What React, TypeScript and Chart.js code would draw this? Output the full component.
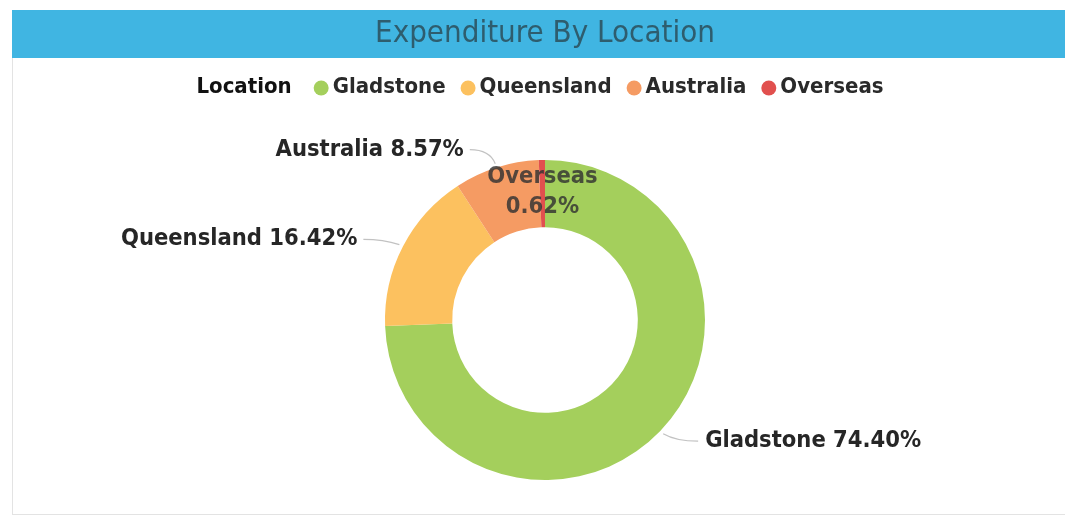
import React, { useEffect, useRef } from "react";
import { Chart, registerables } from "chart.js";

Chart.register(...registerables);

const chartTitle = "Expenditure By Location";
const legendTitle = "Location";
const categories = ["Gladstone", "Queensland", "Australia", "Overseas"];
const shares = [74.4, 16.42, 8.57, 0.62];
const sliceColors = ["#A4CF5C", "#FCC15F", "#F59B63", "#E1504E"];
const insideCategories = ["Overseas"];

const FONT = '"DejaVu Sans Condensed", "DejaVu Sans", sans-serif';

export default function App() {
  const ref = useRef<HTMLCanvasElement>(null);

  useEffect(() => {
    const canvas = ref.current;
    if (!canvas) return;

    const deco = {
      id: "pbiDeco",
      beforeDraw(chart: any) {
        const ctx = chart.ctx as CanvasRenderingContext2D;
        const W = chart.width;
        const H = chart.height;
        ctx.save();
        ctx.fillStyle = "#ffffff";
        ctx.fillRect(0, 0, W, H);
        // card border
        ctx.strokeStyle = "#e3e3e3";
        ctx.lineWidth = 1;
        ctx.strokeRect(12.5, 10.5, W - 12, H - 18);
        // title bar
        ctx.fillStyle = "#40B5E2";
        ctx.fillRect(12, 10, W - 12, 48);
        ctx.font = `31px ${FONT}`;
        ctx.fillStyle = "#2E5D6E";
        ctx.textAlign = "center";
        ctx.textBaseline = "middle";
        ctx.fillText(chartTitle, 545, 34);

        // legend
        const ly = 87;
        const bold = `bold 22px ${FONT}`;
        ctx.font = bold;
        const titleW = ctx.measureText(legendTitle).width;
        const widths = categories.map((c) => ctx.measureText(c).width);
        const gapTitle = 22;
        const gapItem = 15;
        const total =
          titleW + gapTitle + widths.reduce((a, w) => a + 19 + w, 0) + gapItem * (categories.length - 1);
        let x = 540 - total / 2;
        ctx.textAlign = "left";
        ctx.fillStyle = "#111111";
        ctx.fillText(legendTitle, x, ly);
        x += titleW + gapTitle;
        categories.forEach((c, i) => {
          ctx.beginPath();
          ctx.fillStyle = sliceColors[i];
          ctx.arc(x + 7.5, ly + 1, 7.5, 0, Math.PI * 2);
          ctx.fill();
          ctx.fillStyle = "#2a2a2a";
          ctx.fillText(c, x + 19, ly);
          x += 19 + widths[i] + gapItem;
        });
        ctx.restore();
      },
      afterDatasetsDraw(chart: any) {
        const ctx = chart.ctx as CanvasRenderingContext2D;
        const meta = chart.getDatasetMeta(0);
        ctx.save();
        meta.data.forEach((arc: any, i: number) => {
          const props = arc.getProps(["x", "y", "startAngle", "endAngle", "outerRadius", "innerRadius"], true);
          const mid = (props.startAngle + props.endAngle) / 2;
          const cx = props.x;
          const cy = props.y;
          const R = props.outerRadius;
          const cos = Math.cos(mid);
          const sin = Math.sin(mid);
          const label = categories[i];
          const pct = shares[i].toFixed(2) + "%";
          if (insideCategories.includes(label)) {
            const r = (props.outerRadius + props.innerRadius) / 2 + 2;
            const tx = cx + cos * r;
            const ty = cy + sin * r;
            ctx.font = `bold 23.5px ${FONT}`;
            ctx.fillStyle = "rgba(50,50,50,0.82)";
            ctx.textAlign = "center";
            ctx.textBaseline = "middle";
            ctx.fillText(label, tx, ty - 15);
            ctx.fillText(pct, tx, ty + 15);
            return;
          }
          const right = cos >= 0;
          const p1x = cx + cos * (R + 4);
          const p1y = cy + sin * (R + 4);
          const p2x = cx + cos * (R + 22);
          const p2y = cy + sin * (R + 22) + (right ? -5 : 3);
          const p3x = p2x + (right ? 22 : -20);
          ctx.strokeStyle = "#c2c2c2";
          ctx.lineWidth = 1.2;
          ctx.beginPath();
          ctx.moveTo(p1x, p1y);
          ctx.quadraticCurveTo(p2x, p2y, p3x, p2y);
          ctx.stroke();
          ctx.font = `bold 23.5px ${FONT}`;
          ctx.fillStyle = "#262626";
          ctx.textBaseline = "middle";
          ctx.textAlign = right ? "left" : "right";
          ctx.fillText(`${label} ${pct}`, p3x + (right ? 7 : -6), p2y);
        });
        ctx.restore();
      },
    };

    const chart = new Chart(canvas, {
      type: "doughnut",
      data: {
        labels: categories,
        datasets: [
          {
            data: shares,
            backgroundColor: sliceColors,
            borderWidth: 0,
          },
        ],
      },
      options: {
        responsive: false,
        animation: false,
        cutout: "58%",
        layout: { padding: { left: 385, right: 360, top: 160, bottom: 42 } },
        plugins: {
          legend: { display: false },
          tooltip: { enabled: false },
          title: { display: false },
        },
      },
      plugins: [deco],
    });
    return () => chart.destroy();
  }, []);

  return (
    <div style={{ position: "fixed", left: 0, top: 0, width: 1065, height: 522, background: "#fff" }}>
      <canvas ref={ref} width={1065} height={522} style={{ width: 1065, height: 522, display: "block" }} />
    </div>
  );
}
